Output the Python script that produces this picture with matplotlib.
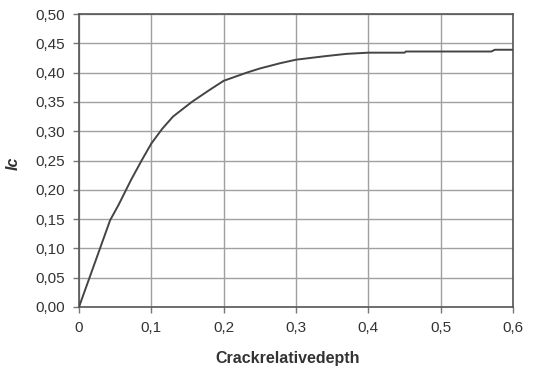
import matplotlib
matplotlib.use("Agg")
import matplotlib.pyplot as plt

depth = [0.0, 0.043, 0.055, 0.072, 0.087, 0.100, 0.115, 0.130, 0.156, 0.180,
         0.200, 0.232, 0.250, 0.278, 0.300, 0.320, 0.340, 0.370, 0.400, 0.450,
         0.452, 0.570, 0.575, 0.600]
ic = [0.0, 0.148, 0.175, 0.217, 0.251, 0.279, 0.304, 0.325, 0.350, 0.370,
      0.386, 0.400, 0.407, 0.416, 0.422, 0.425, 0.428, 0.432, 0.434, 0.434,
      0.436, 0.436, 0.439, 0.439]
xticks = [0, 0.1, 0.2, 0.3, 0.4, 0.5, 0.6]
xtick_labels = ["0", "0,1", "0,2", "0,3", "0,4", "0,5", "0,6"]
yticks = [0, 0.05, 0.10, 0.15, 0.20, 0.25, 0.30, 0.35, 0.40, 0.45, 0.50]
ytick_labels = ["0,00", "0,05", "0,10", "0,15", "0,20", "0,25", "0,30", "0,35", "0,40", "0,45", "0,50"]

plt.rcParams['font.family'] = ['Liberation Sans', 'DejaVu Sans']

fig = plt.figure(figsize=(5.35, 3.75), dpi=100)
ax = fig.add_axes([79/535, 1 - 307/375, (513-79)/535, (307-14)/375])

ax.plot(depth, ic, color="#444444", lw=1.4, zorder=3)
ax.set_xlim(0, 0.6)
ax.set_ylim(0, 0.5)
ax.set_xticks(xticks)
ax.set_xticklabels(xtick_labels)
ax.set_yticks(yticks)
ax.set_yticklabels(ytick_labels)
ax.grid(True, color="#a0a0a0", lw=1.0)
ax.set_axisbelow(True)
for s in ax.spines.values():
    s.set_color("#555555")
    s.set_linewidth(1.2)
ax.tick_params(axis="both", direction="out", length=4, width=1, color="#777777",
               labelsize=11, labelcolor="#333333", pad=6)
ax.set_xlabel("Crackrelativedepth", fontsize=11.5, fontweight="bold", color="#333333")
ax.xaxis.set_label_coords(0.48, -0.15)
ax.set_ylabel("Ic", fontsize=11.5, fontweight="bold", style="italic", color="#333333")
ax.yaxis.set_label_coords(-0.135, 0.49)

fig.savefig("out.png", dpi=100)
